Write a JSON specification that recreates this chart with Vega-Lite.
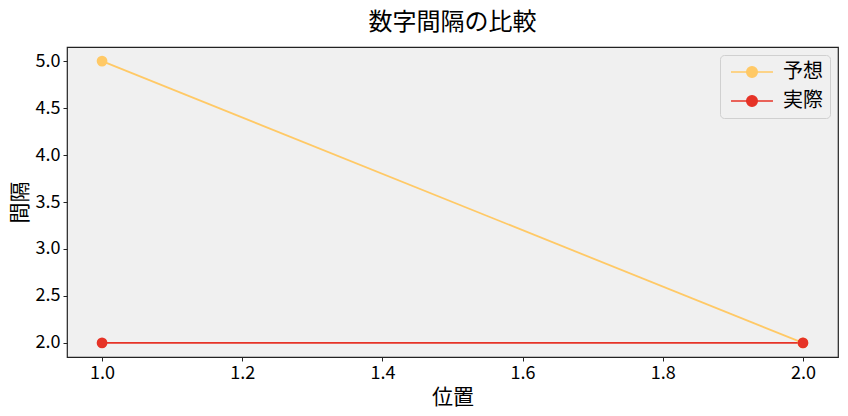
{
  "$schema": "https://vega.github.io/schema/vega-lite/v6.json",
  "width": 771,
  "height": 310,
  "autosize": "none",
  "padding": {"left": 67, "top": 47, "right": 10, "bottom": 59},
  "background": "white",
  "config": {
    "font": "Noto Sans CJK JP",
    "view": {"stroke": "#222", "strokeWidth": 1.2, "fill": "#F0F0F0"},
    "axis": {
      "domain": false,
      "grid": false,
      "ticks": true,
      "tickColor": "#222",
      "tickSize": 4,
      "labelFontSize": 18,
      "labelColor": "black",
      "titleFontSize": 21,
      "titleFontWeight": "normal",
      "titleColor": "black"
    }
  },
  "title": {
    "text": "数字間隔の比較",
    "fontSize": 24,
    "fontWeight": "normal",
    "color": "black",
    "offset": 12
  },
  "data": {
    "values": [
      {"pos": 1, "val": 5, "series": "予想"},
      {"pos": 2, "val": 2, "series": "予想"},
      {"pos": 1, "val": 2, "series": "実際"},
      {"pos": 2, "val": 2, "series": "実際"}
    ]
  },
  "mark": {
    "type": "line",
    "strokeWidth": 1.8,
    "point": {"filled": true, "size": 115}
  },
  "encoding": {
    "x": {
      "field": "pos",
      "type": "quantitative",
      "title": "位置",
      "scale": {"domain": [0.95, 2.05], "nice": false, "zero": false},
      "axis": {"values": [1.0, 1.2, 1.4, 1.6, 1.8, 2.0], "format": ".1f", "labelPadding": 3, "titlePadding": 4}
    },
    "y": {
      "field": "val",
      "type": "quantitative",
      "title": "間隔",
      "scale": {"domain": [1.85, 5.15], "nice": false, "zero": false},
      "axis": {"values": [2.0, 2.5, 3.0, 3.5, 4.0, 4.5, 5.0], "format": ".1f", "labelPadding": 3, "titlePadding": 5}
    },
    "color": {
      "field": "series",
      "type": "nominal",
      "scale": {"domain": ["予想", "実際"], "range": ["#FFC966", "#E63327"]},
      "legend": {
        "title": null,
        "orient": "top-right",
        "offset": 8,
        "labelFontSize": 20,
        "labelColor": "black",
        "symbolType": "M-4,0H4M-1,0A1,1 0 1,0 1,0A1,1 0 1,0 -1,0",
        "symbolSize": 110,
        "symbolStrokeWidth": 1.6,
        "symbolOffset": 15,
        "labelOffset": 21,
        "rowPadding": 9,
        "padding": 7,
        "fillColor": "#F0F0F0",
        "strokeColor": "#D0D0D0",
        "cornerRadius": 4,
        "encode": {
          "symbols": {"update": {"fill": {"scale": "color", "field": "value"}, "fillOpacity": {"value": 1}}}
        }
      }
    }
  }
}
